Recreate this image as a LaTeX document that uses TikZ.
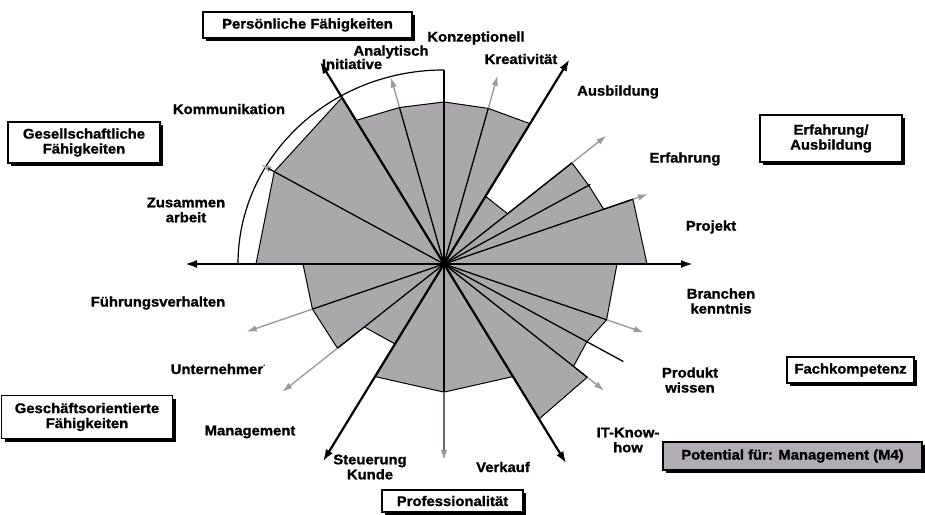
\documentclass[tikz,border=0pt]{standalone}
\usepackage{fontspec}
\setmainfont{Liberation Sans}[FakeStretch=1.06, BoldFeatures={FakeBold=1.2}]
\usetikzlibrary{arrows.meta,shadows}

\definecolor{sectorgray}{RGB}{170,168,170}
\definecolor{potgray}{RGB}{178,172,180}
\definecolor{tipgray}{RGB}{155,155,155}
\definecolor{slate}{RGB}{95,108,108}

\tikzset{
  lbl/.style={font=\fontsize{14}{15}\selectfont\bfseries, align=center, inner sep=0pt},
  catbox/.style={draw=black, line width=1.2pt, fill=white, inner sep=0pt,
    font=\fontsize{14}{15}\selectfont\bfseries, align=center,
    drop shadow={shadow xshift=3pt, shadow yshift=-3pt, opacity=1, fill=black}},
  spoke/.style={line width=1.3pt},
  axisarrow/.style={line width=2.2pt, -{Latex[length=12pt,width=8pt]}},
  potarrow/.style={draw=tipgray, line width=1.4pt, -{Latex[length=10pt,width=6.5pt]}},
}

\begin{document}
\begin{tikzpicture}[x=1pt,y=-1pt]
\useasboundingbox (0,0) rectangle (925,514);
\coordinate (O) at (444,264);

% category boxes
\node[catbox, minimum width=209pt, minimum height=26pt] (bpers) at (307.5,25) {Persönliche Fähigkeiten};
\node[catbox, minimum width=152pt, minimum height=41pt] (bges) at (84,142.5) {Gesellschaftliche\\Fähigkeiten};
\node[catbox, minimum width=171pt, minimum height=43pt] (bgesch) at (87,417) {Geschäftsorientierte\\Fähigkeiten};
\node[catbox, minimum width=142pt, minimum height=47pt] (berf) at (831,138.5) {Erfahrung/\\Ausbildung};
\node[catbox, minimum width=127pt, minimum height=26pt] (bfach) at (850.5,370) {Fachkompetenz};
\node[catbox, fill=potgray, minimum width=259pt, minimum height=28pt] (bpot) at (792.5,456) {Potential für: Management (M4)};
\node[catbox, minimum width=141pt, minimum height=22pt] (bprof) at (452.5,501) {Professionalität};

% axis labels
\node[lbl] (lkonz) at (476,38) {Konzeptionell};
\node[lbl] (lanal) at (391,52) {Analytisch};
\node[lbl] (linit) at (352,64) {Initiative};
\node[lbl] (lkrea) at (521,59) {Kreativität};
\node[lbl] (lausb) at (618,92) {Ausbildung};
\node[lbl] (lerf) at (685,159) {Erfahrung};
\node[lbl] (lproj) at (711,227) {Projekt};
\node[lbl] (lbran) at (721,301) {Branchen\\kenntnis};
\node[lbl] (lprod) at (690,380) {Produkt\\wissen};
\node[lbl] (litkh) at (628,440) {IT-Know-\\how};
\node[lbl] (lverk) at (503,467) {Verkauf};
\node[lbl] (lsteu) at (370,467) {Steuerung\\Kunde};
\node[lbl] (lmgmt) at (250,432) {Management};
\node[lbl] (lunt) at (218,369) {Unternehmer\raisebox{1.1ex}{\fontsize{7}{7}\selectfont .}};
\node[lbl] (lfuehr) at (158,303) {Führungsverhalten};
\node[lbl] (lzus) at (186,210) {Zusammen\\arbeit};
\node[lbl] (lkomm) at (229,109) {Kommunikation};

\begin{scope}[shift={(O)}, x=1pt, y=0.942pt]
  % sector profile
  \filldraw[fill=sectorgray, draw=black, line width=1pt]
    (0:203) -- (20:201) -- (20:170) -- (30:167) -- (40:167) -- (40:83) -- (60:83)
    -- (60:172) -- (75:171) -- (90:172) -- (105:172) -- (120:176) -- (120:204)
    -- (150:196) -- (180:188) -- (180:141) -- (200:140) -- (220:139) -- (220:104)
    -- (240:98) -- (240:138) -- (270:136) -- (300:138) -- (300:190) -- (320:187)
    -- (320:169) -- (330:165) -- (340:173) -- (360:173) -- cycle;
  % outer arc of the upper left quadrant
  \draw[line width=1.2pt] (90:206) arc[start angle=90, end angle=180, x radius=206pt, y radius=194pt];
  % grey potential arrows
  \foreach \a/\ra/\rb [count=\i] in {20/201/217, 40/167/212, 75/171/207, 105/172/205,
      150/196/211, 200/140/210, 220/139/211, 320/187/209, 340/173/212.6} {
    \coordinate (ps\i) at (\a:\ra);
    \coordinate (pe\i) at (\a:\rb);
    \draw[potarrow] (ps\i) -- (pe\i);
  }
  % thin spokes
  \foreach \a/\r [count=\i] in {20/201, 30/169, 40/167, 75/171, 90/206, 105/172, 150/203,
      200/140, 220/139, 270/136, 320/187, 330/207, 340/173} {
    \coordinate (sp\i) at (\a:\r);
    \draw[spoke] (O) -- (sp\i);
  }
  % Verkauf
  \coordinate (vk) at (270:208);
  \draw[draw=slate, line width=1.3pt, -{Latex[length=10pt,width=6.5pt,color=tipgray]}] (sp10) -- (vk);
  % main axes
  \coordinate (axR) at (0:249);
  \coordinate (axL) at (180:259);
  \draw[axisarrow] (O) -- (axR);
  \draw[axisarrow] (O) -- (axL);
  \foreach \a/\r/\n in {60/251/ausb, 120/248/init, 240/242/steu, 300/244.5/know} {
    \coordinate (ax\n) at (\a:\r);
    \draw[axisarrow] (O) -- (ax\n);
  }
\end{scope}
\fill (O) circle[radius=3.5pt];
\end{tikzpicture}
\end{document}
